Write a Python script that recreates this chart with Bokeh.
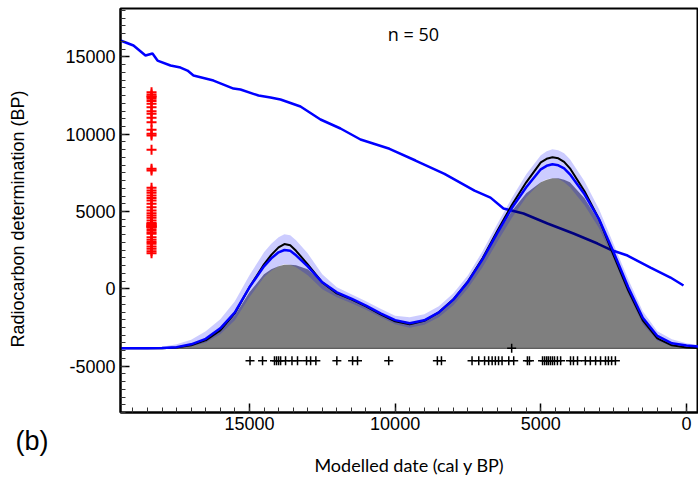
import math
from bokeh.plotting import figure
from bokeh.models import Range1d, SingleIntervalTicker, Label, PrintfTickFormatter
from bokeh.embed import file_html
from bokeh.resources import INLINE

# ---------------- data ----------------
# calibration curve (cal BP -> radiocarbon BP)
cal_bp = [19425, 18979, 18567, 18327, 18155, 17709, 17366, 17126, 16920, 16233,
          15547, 15307, 14689, 14277, 13934, 13248, 12561, 11875, 11188, 10193,
          9301, 8306, 7276, 6727, 6281, 5594, 4770, 3878, 3054, 2540,
          2025, 1236, 549, 103]
cal_c14 = [16060, 15735, 15088, 15217, 14764, 14441, 14311, 14117, 13794, 13470,
           12953, 12889, 12500, 12373, 12244, 11791, 10950, 10368, 9656, 9055,
           8298, 7437, 6351, 5899, 5194, 4870, 4223, 3576, 2929, 2476,
           2153, 1377, 731, 213]

# density grid (cal BP) and relative densities
grid_bp = [19500, 18500, 18000, 17500, 17000, 16500, 16000, 15500, 15000, 14500,
           14250, 14000, 13800, 13600, 13400, 13000, 12500, 12000, 11500, 11000,
           10500, 10000, 9500, 9000, 8500, 8000, 7500, 7000, 6500, 6000,
           5500, 5000, 4800, 4600, 4400, 4200, 4000, 3500, 3000, 2500,
           2000, 1500, 1000, 500, 0, -500]
dens_est = [0, 0.05, 0.3, 1.2, 4, 9.5, 20, 36, 61, 82,
            90, 96, 98.3, 97.5, 93, 82, 66, 56, 49.6, 42.8,
            35, 28.2, 25, 28, 36, 48.7, 66.5, 89, 115, 140,
            161, 179, 182.5, 184, 183, 180, 174, 154, 129, 96,
            61, 30.6, 12.4, 5, 2.8, 1.6]
dens_sample = [0, 0, 0.1, 0.8, 3, 8, 18, 35, 61, 84,
               93.5, 101, 104.3, 103, 97.5, 84, 66, 55, 49, 42,
               34, 27, 24, 27.5, 36, 49, 67, 90, 117, 143,
               166, 186, 189.5, 191, 190, 186.5, 180, 157, 129, 93,
               58, 28, 10, 3, 0.8, 0.2]
dens_true = [0, 0, 0.1, 0.6, 2.5, 7, 17, 33, 56, 74,
             79, 82, 83.5, 83.7, 83, 79, 66, 56, 49.6, 42.8,
             35, 28, 25, 28, 36, 48.5, 66, 88, 114, 137,
             155, 166, 168.5, 170, 170, 168.5, 166, 150, 127, 93,
             58, 28, 10, 3, 0.5, 0]
dens_hi = [0.2, 0.6, 1.5, 4, 8.5, 17, 29, 47, 73, 96,
           104.5, 111, 114, 113, 108, 95, 74, 61, 54, 47,
           39.5, 32.5, 31, 34, 42, 55, 73, 97, 124, 150,
           174, 193, 197, 199, 198, 195, 189, 167, 139, 104,
           69, 37, 17, 9, 5, 3]
dens_lo = [0, 0, 0.05, 0.6, 2.2, 5.5, 14, 28, 51, 71,
           77.5, 82, 84, 83.5, 81, 73, 59, 51, 45, 38.5,
           31, 24, 20.5, 23.5, 31, 43, 60, 81, 106, 130,
           151, 166, 169, 170, 169.5, 166, 161, 143, 120, 89,
           54, 24, 7.5, 2, 0.5, 0]

# modelled dates of the 50 samples (cal BP)
sample_dates = [14980, 14550, 14140, 14070, 14000, 13930, 13760, 13540, 13350, 13040,
                12900, 12720, 12000, 11460, 11290, 10220, 8550, 8410,
                7360, 7130, 6930, 6790, 6670, 6560, 6450, 6330, 6100, 5930,
                5460, 5390, 4940, 4870, 4800, 4740, 4670, 4600, 4530, 4430,
                4320, 3980, 3880, 3740, 3470, 3300, 3120, 2950, 2780, 2680,
                2570, 2440]
# radiocarbon determinations of the 50 samples (BP)
c14_dets = [12720, 12560, 12450, 12400, 12290, 12140, 11970, 11750, 11490, 11320,
            11060, 10780, 10290, 10030, 9920, 9000, 7760, 7650,
            6530, 6360, 6210, 6040, 5880, 5710, 5500, 5280, 5060, 4890,
            4740, 4590, 4420, 4250, 4200, 4160, 4110, 4070, 4030, 3990,
            3950, 3810, 3660, 3560, 3340, 3170, 3020, 2910, 2740, 2590,
            2430, 2300]
marked_date = [6000]

n_label = "n = 50"
panel_label = "(b)"
x_title = "Modelled date (cal y BP)"
y_title = "Radiocarbon determination (BP)"

# ---------------- layout constants ----------------
BASELINE = -3850
DENS_SCALE = 64.68
DET_X = 18360
DATE_Y = -4650


def scaled(d):
    return [BASELINE + v * DENS_SCALE for v in d]


p = figure(width=698, height=478, output_backend="svg", toolbar_location=None,
           x_range=Range1d(19425, -412), y_range=Range1d(-8000, 18130),
           min_border_left=120, min_border_right=0, min_border_top=8,
           min_border_bottom=66, background_fill_color="white",
           border_fill_color="white")
p.xgrid.visible = False
p.ygrid.visible = False
p.outline_line_color = "black"
p.outline_line_width = 2

for ax in (p.xaxis[0], p.yaxis[0]):
    ax.ticker = SingleIntervalTicker(interval=5000, num_minor_ticks=10)
    ax.formatter = PrintfTickFormatter(format="%d")
    ax.major_tick_in = 9
    ax.major_tick_out = 0
    ax.minor_tick_in = 5
    ax.minor_tick_out = 0
    ax.axis_line_width = 2
    ax.axis_line_color = "black"
    ax.major_tick_line_color = "black"
    ax.major_tick_line_width = 1.5
    ax.minor_tick_line_color = "#333333"
    ax.minor_tick_line_width = 1
    ax.major_label_text_font = "Liberation Sans"
    ax.major_label_text_font_size = "18px"
    ax.major_label_text_color = "black"
    ax.axis_label_text_font_style = "normal"
    ax.axis_label_text_color = "black"
    ax.axis_label_text_font_size = "18px"

p.xaxis[0].axis_label = x_title
p.xaxis[0].axis_label_text_font = "Lato"
p.xaxis[0].major_label_standoff = 4
p.xaxis[0].axis_label_standoff = 21
p.yaxis[0].major_label_standoff = 5

# calibration curve
p.line(cal_bp, cal_c14, line_color="#0000ff", line_width=2.5)

# true density (grey) + baseline
p.varea(x=grid_bp, y1=[BASELINE] * len(grid_bp), y2=scaled(dens_true),
        fill_color="black", fill_alpha=0.5)
p.line([grid_bp[0], grid_bp[-1]], [BASELINE, BASELINE], line_color="#444444",
       line_width=1)

# uncertainty band
p.varea(x=grid_bp, y1=scaled(dens_lo), y2=scaled(dens_hi),
        fill_color="#0000ff", fill_alpha=0.2)

# sample density (black) and estimate (blue)
p.line(grid_bp, scaled(dens_sample), line_color="black", line_width=2)
p.line(grid_bp, scaled(dens_est), line_color="#0000ff", line_width=2.5)

# determinations and dates
p.scatter([DET_X] * len(c14_dets), c14_dets, marker="cross", size=10,
          line_color="red", line_width=2)
p.scatter(sample_dates, [DATE_Y] * len(sample_dates), marker="cross", size=9,
          line_color="black", line_width=1.5)
p.scatter(marked_date, [BASELINE] * len(marked_date), marker="cross", size=9,
          line_color="black", line_width=1.5)

p.add_layout(Label(x=9369, y=16513, text=n_label, text_align="center",
                   text_baseline="middle", text_font="Open Sans",
                   text_font_size="18px", text_color="black"))

# labels in the left margin (side panel so they are not clipped to the frame)
p.add_layout(Label(x=22926, y=4515, text=y_title, angle=math.pi / 2,
                   text_align="center", text_baseline="middle",
                   text_font="Liberation Sans", text_font_size="18px",
                   text_color="black"), "left")
p.add_layout(Label(x=23029, y=-9812, text=panel_label, text_align="left",
                   text_baseline="middle", text_font="Liberation Sans",
                   text_font_size="27px", text_color="black"), "left")

open("out.html", "w").write(file_html(p, INLINE))
